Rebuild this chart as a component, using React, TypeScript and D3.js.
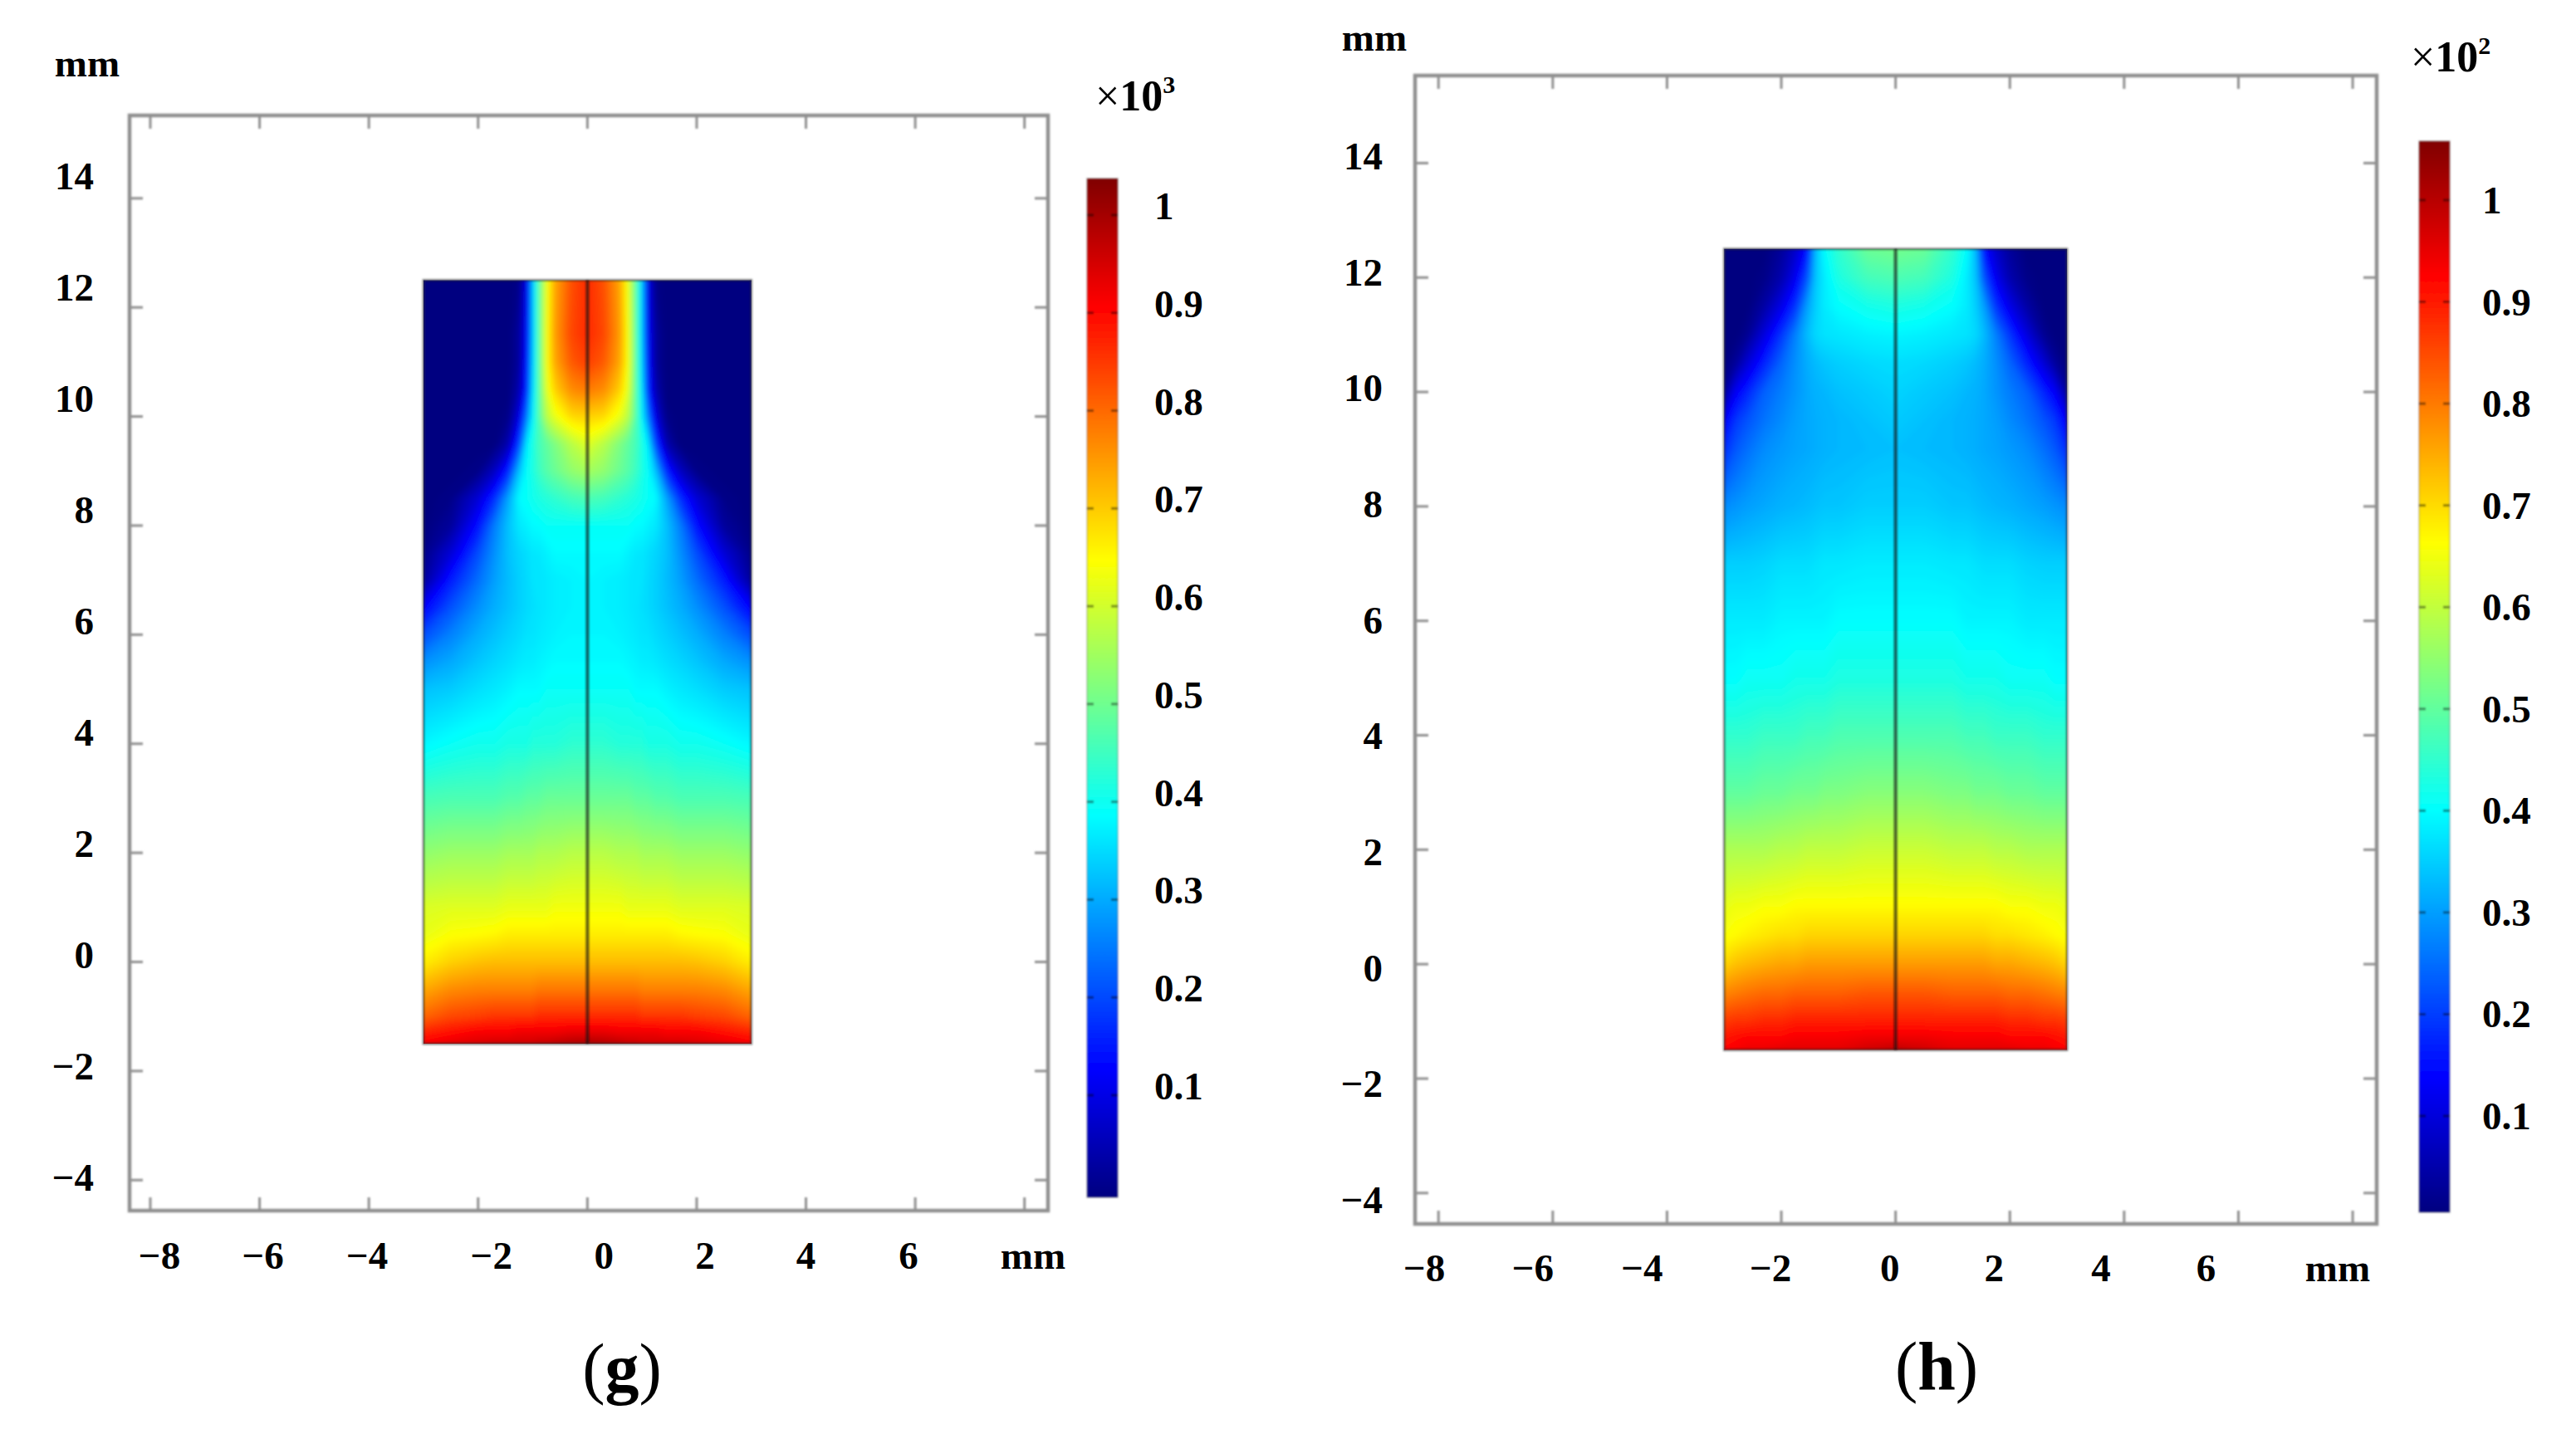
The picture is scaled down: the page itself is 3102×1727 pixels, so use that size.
import React from "react"
import * as d3 from "d3"

// jet colormap stops, as a fraction of the colorbar's top value
const jetFractions = [0, 0.125, 0.375, 0.625, 0.875, 1]
const jetColors = ["#000080", "#0000ff", "#00ffff", "#ffff00", "#ff0000", "#800000"]

const axisTicksX = [-8, -6, -4, -2, 0, 2, 4, 6, 8]
const axisLabelsX = [-8, -6, -4, -2, 0, 2, 4, 6]
const axisTicksY = [-4, -2, 0, 2, 4, 6, 8, 10, 12, 14]
const barTicks = [0.1, 0.2, 0.3, 0.4, 0.5, 0.6, 0.7, 0.8, 0.9, 1]

// field values, half width only: the picture is mirrored about x = 0
const gColumns = [0, 0.3, 0.6, 0.75, 0.9, 1.0, 1.1, 1.25, 1.45, 1.7, 2.0, 2.5, 3.0]
const gRows = [12.5, 11.5, 11, 10.5, 10, 9.5, 9, 8.5, 8, 7.5, 7, 6.5, 6, 5.5, 5, 4, 3, 2, 1, 0.5, 0, -0.5, -1, -1.3, -1.5]
const gField = [
  [.87, .83, .74, .63, .47, .33, .12, .01, 0, 0, 0, 0, 0],
  [.87, .84, .75, .64, .47, .33, .14, .03, 0, 0, 0, 0, 0],
  [.85, .82, .74, .64, .47, .34, .16, .03, 0, 0, 0, 0, 0],
  [.79, .77, .70, .62, .47, .36, .18, .05, 0, 0, 0, 0, 0],
  [.70, .69, .63, .58, .47, .38, .27, .10, .01, 0, 0, 0, 0],
  [.62, .58, .52, .49, .46, .42, .38, .20, .05, 0, 0, 0, 0],
  [.56, .54, .50, .48, .45, .42, .40, .33, .17, .07, .01, 0, 0],
  [.47, .46, .44, .43, .42, .41, .40, .39, .30, .18, .09, .01, 0],
  [.40, .40, .40, .40, .39, .39, .38, .37, .33, .26, .15, .03, 0],
  [.39, .39, .39, .38, .37, .37, .36, .35, .33, .28, .21, .09, .01],
  [.385, .38, .375, .37, .365, .365, .355, .345, .325, .295, .245, .16, .03],
  [.38, .38, .375, .37, .365, .36, .355, .345, .33, .31, .28, .215, .13],
  [.385, .385, .38, .375, .37, .365, .365, .355, .345, .33, .31, .265, .21],
  [.39, .39, .39, .385, .38, .375, .375, .37, .36, .35, .335, .305, .28],
  [.40, .40, .40, .40, .39, .39, .39, .39, .38, .37, .36, .34, .33],
  [.44, .44, .43, .43, .43, .43, .42, .42, .42, .41, .41, .40, .385],
  [.50, .50, .50, .50, .49, .49, .49, .48, .48, .47, .47, .47, .465],
  [.58, .58, .57, .57, .57, .56, .56, .56, .56, .55, .55, .55, .54],
  [.64, .64, .64, .63, .63, .63, .63, .63, .63, .62, .62, .62, .615],
  [.67, .67, .67, .67, .67, .67, .67, .67, .67, .66, .655, .65, .63],
  [.72, .72, .72, .72, .72, .72, .72, .72, .72, .72, .715, .70, .67],
  [.79, .79, .79, .79, .79, .78, .78, .78, .78, .78, .78, .77, .74],
  [.87, .87, .87, .87, .87, .86, .86, .86, .86, .86, .85, .84, .81],
  [.94, .94, .93, .93, .93, .93, .93, .93, .92, .92, .92, .90, .88],
  [1.0, .99, .98, .97, .97, .96, .96, .96, .96, .96, .95, .94, .92],
]

// same for panel (h)
const hColumns = [0, 0.5, 1.0, 1.25, 1.4, 1.55, 1.75, 2.0, 2.3, 2.6, 2.8, 3.0]
const hRows = [12.5, 12, 11.5, 11, 10.5, 10, 9.5, 9, 8, 7, 6, 5, 4, 3, 2, 1, 0.5, 0, -0.5, -1, -1.3, -1.5]
const hField = [
  [.52, .51, .45, .40, .33, .15, .08, .03, 0, 0, 0, 0],
  [.48, .47, .43, .38, .34, .22, .12, .05, .01, 0, 0, 0],
  [.43, .42, .40, .38, .35, .30, .19, .11, .04, 0, 0, 0],
  [.39, .385, .375, .37, .36, .33, .27, .19, .10, .02, 0, 0],
  [.365, .36, .35, .34, .33, .315, .285, .24, .17, .09, .03, 0],
  [.355, .345, .335, .325, .32, .31, .29, .265, .235, .17, .125, .03],
  [.345, .335, .325, .32, .315, .31, .30, .28, .255, .22, .19, .125],
  [.335, .33, .325, .32, .315, .31, .305, .295, .28, .25, .225, .18],
  [.35, .35, .34, .34, .335, .33, .325, .32, .31, .30, .29, .28],
  [.38, .38, .375, .375, .37, .365, .365, .365, .355, .35, .35, .35],
  [.40, .40, .40, .39, .39, .39, .39, .39, .38, .38, .38, .38],
  [.43, .43, .43, .42, .42, .42, .42, .41, .41, .41, .40, .40],
  [.48, .48, .48, .47, .47, .47, .46, .46, .46, .45, .45, .45],
  [.54, .54, .53, .53, .52, .52, .52, .51, .51, .50, .50, .50],
  [.61, .61, .60, .60, .60, .60, .59, .59, .58, .58, .58, .58],
  [.67, .67, .67, .67, .67, .67, .67, .66, .66, .65, .65, .64],
  [.71, .71, .71, .71, .71, .71, .70, .70, .69, .68, .67, .66],
  [.77, .77, .77, .77, .77, .77, .76, .76, .75, .74, .73, .71],
  [.84, .84, .83, .83, .83, .83, .83, .82, .82, .81, .80, .79],
  [.90, .90, .90, .90, .90, .90, .90, .89, .89, .88, .88, .87],
  [.95, .95, .94, .94, .94, .94, .94, .93, .93, .93, .92, .91],
  [1.0, .98, .96, .96, .96, .96, .96, .96, .95, .95, .94, .93],
]

const panelG = {
  id: "g",
  frame: { left: 156, right: 1262, top: 139, bottom: 1458 },
  xDomain: [-8.38, 8.43], yDomain: [-4.56, 15.52],
  columns: gColumns, rows: gRows, field: gField, barMax: 1.04,
  xNudge: [11, 4, -2, 16, 20, 10, 0, -8],
  xBaseline: 1528,
  mmBottom: { x: 1244, y: 1528 }, mmTop: { x: 105, y: 92 },
  yLabelRange: [1418, 212], yLabelRight: 113,
  bar: { left: 1309, right: 1346, top: 215, bottom: 1442, y01: 1319, y1: 259, labelX: 1390, labelShift: 5 },
  exponent: "3", exponentPos: { x: 1319, y: 133 },
  caption: { x: 749, y: 1675 }, fontSize: 47,
}

const panelH = {
  id: "h",
  frame: { left: 1704, right: 2862, top: 91, bottom: 1474 },
  xDomain: [-8.41, 8.42], yDomain: [-4.54, 15.53],
  columns: hColumns, rows: hRows, field: hField, barMax: 1.06,
  xNudge: [-17, -24, -30, -13, -7, -19, -28, -39],
  xBaseline: 1543,
  mmBottom: { x: 2815, y: 1543 }, mmTop: { x: 1655, y: 61 },
  yLabelRange: [1445, 188], yLabelRight: 1665,
  bar: { left: 2913, right: 2950, top: 170, bottom: 1460, y01: 1344, y1: 241, labelX: 2989, labelShift: 16 },
  exponent: "2", exponentPos: { x: 2903, y: 86 },
  caption: { x: 2332, y: 1673 }, fontSize: 47,
}

const SERIF = "'Liberation Serif', serif"
const FRAME_COLOR = "#909090"

const Panel = ({ p }: { p: typeof panelG }) => {
  const { frame, bar } = p
  const x = d3.scaleLinear().domain(p.xDomain).range([frame.left, frame.right])
  const y = d3.scaleLinear().domain(p.yDomain).range([frame.bottom, frame.top])
  const yLabel = d3.scaleLinear().domain([-4, 14]).range(p.yLabelRange)
  const barY = d3.scaleLinear().domain([0.1, 1]).range([bar.y01, bar.y1])
  const jet = d3.scaleLinear<string>()
    .domain(jetFractions.map((f) => f * p.barMax))
    .range(jetColors)
    .clamp(true)

  // mirror the half table to the full width
  const mirroredColumns = [...p.columns.slice(1).reverse().map((c) => -c), ...p.columns]
  const values = p.field.flatMap((row) => [...row.slice(1).reverse(), ...row])
  const nx = mirroredColumns.length
  const ny = p.rows.length

  // grid index to pixel, with a little overshoot so the blur is clipped, not faded
  const idxX = d3.scaleLinear()
    .domain([-0.5, ...d3.range(nx), nx - 0.5])
    .range([x(-3) - 8, ...mirroredColumns.map((c) => x(c)), x(3) + 8])
  const idxY = d3.scaleLinear()
    .domain([-0.5, ...d3.range(ny), ny - 0.5])
    .range([y(12.5) - 8, ...p.rows.map((r) => y(r)), y(-1.5) + 8])
  const path = d3.geoPath(d3.geoTransform({
    point(px, py) { this.stream.point(idxX(px - 0.5), idxY(py - 0.5)) },
  }))
  const thresholds = d3.range(0.005, p.barMax, 0.005)
  const bands = d3.contours().size([nx, ny]).thresholds(thresholds)(values)

  const rx = x(-3), rw = x(3) - x(-3), ry = y(12.5), rh = y(-1.5) - y(12.5)
  const tickLen = 16

  return (
    <g>
      <defs>
        <clipPath id={`clip-${p.id}`}><rect x={rx} y={ry} width={rw} height={rh} /></clipPath>
        <linearGradient id={`jet-${p.id}`} x1="0" x2="0" y1="1" y2="0">
          {jetFractions.map((f, i) => <stop key={i} offset={f} stopColor={jetColors[i]} />)}
        </linearGradient>
      </defs>

      <g clipPath={`url(#clip-${p.id})`}>
        <g filter="url(#soft)">
          <rect x={rx - 8} y={ry - 8} width={rw + 16} height={rh + 16} fill={jet(0)} />
          {bands.map((b) => <path key={b.value} d={path(b) || ""} fill={jet(b.value)} />)}
        </g>
      </g>
      <g filter="url(#thin)">
        <rect x={rx} y={ry} width={rw} height={rh} fill="none" stroke="#333" strokeOpacity={0.65} strokeWidth={2.5} />
        <line x1={x(0)} x2={x(0)} y1={ry} y2={ry + rh} stroke="#111" strokeOpacity={0.65} strokeWidth={4} />

        <rect x={frame.left} y={frame.top} width={frame.right - frame.left} height={frame.bottom - frame.top}
          fill="none" stroke={FRAME_COLOR} strokeWidth={4.5} />
        {axisTicksX.map((v) => (
          <g key={v} stroke={FRAME_COLOR} strokeWidth={3}>
            <line x1={x(v)} x2={x(v)} y1={frame.bottom} y2={frame.bottom - tickLen} />
            <line x1={x(v)} x2={x(v)} y1={frame.top} y2={frame.top + tickLen} />
          </g>
        ))}
        {axisTicksY.map((v) => (
          <g key={v} stroke={FRAME_COLOR} strokeWidth={3}>
            <line x1={frame.left} x2={frame.left + tickLen} y1={y(v)} y2={y(v)} />
            <line x1={frame.right} x2={frame.right - tickLen} y1={y(v)} y2={y(v)} />
          </g>
        ))}

        <rect x={bar.left} y={bar.top} width={bar.right - bar.left} height={bar.bottom - bar.top}
          fill={`url(#jet-${p.id})`} stroke="#555" strokeOpacity={0.4} strokeWidth={1.5} />
        {barTicks.map((v) => (
          <g key={v} stroke="#000" strokeOpacity={0.45} strokeWidth={3}>
            <line x1={bar.left} x2={bar.left + 8} y1={barY(v)} y2={barY(v)} />
            <line x1={bar.right} x2={bar.right - 8} y1={barY(v)} y2={barY(v)} />
          </g>
        ))}
      </g>

      <g fontFamily={SERIF} fontWeight="bold" fontSize={p.fontSize} fill="#000">
        {axisLabelsX.map((v, i) => (
          <text key={v} x={x(v) + p.xNudge[i]} y={p.xBaseline} textAnchor="middle">
            {v < 0 ? `\u2212${-v}` : v}
          </text>
        ))}
        <text x={p.mmBottom.x} y={p.mmBottom.y} textAnchor="middle">mm</text>
        <text x={p.mmTop.x} y={p.mmTop.y} textAnchor="middle">mm</text>
        {axisTicksY.map((v) => (
          <text key={v} x={p.yLabelRight} y={yLabel(v) + 16} textAnchor="end">
            {v < 0 ? `\u2212${-v}` : v}
          </text>
        ))}
        {barTicks.map((v) => (
          <text key={v} x={bar.labelX} y={barY(v) + bar.labelShift}>{v}</text>
        ))}
        <text x={p.exponentPos.x} y={p.exponentPos.y} fontSize={52}>
          <tspan fontWeight="normal">×</tspan>10
          <tspan fontSize={30} dy={-21}>{p.exponent}</tspan>
        </text>
      </g>

      <text x={p.caption.x} y={p.caption.y} textAnchor="middle" fontFamily={SERIF} fontSize={82} fill="#000">
        (<tspan fontWeight="bold">{p.id}</tspan>)
      </text>
    </g>
  )
}

const App = () => (
  <svg width={3102} height={1727} style={{ position: "absolute", left: 0, top: 0, background: "#fff" }}>
    <defs>
      <filter id="soft" x="-5%" y="-5%" width="110%" height="110%"><feGaussianBlur stdDeviation="3" /></filter>
      <filter id="thin" filterUnits="userSpaceOnUse" x="0" y="0" width="3102" height="1727"><feGaussianBlur stdDeviation="0.8" /></filter>
    </defs>
    <Panel p={panelG} />
    <Panel p={panelH} />
  </svg>
)

export default App
